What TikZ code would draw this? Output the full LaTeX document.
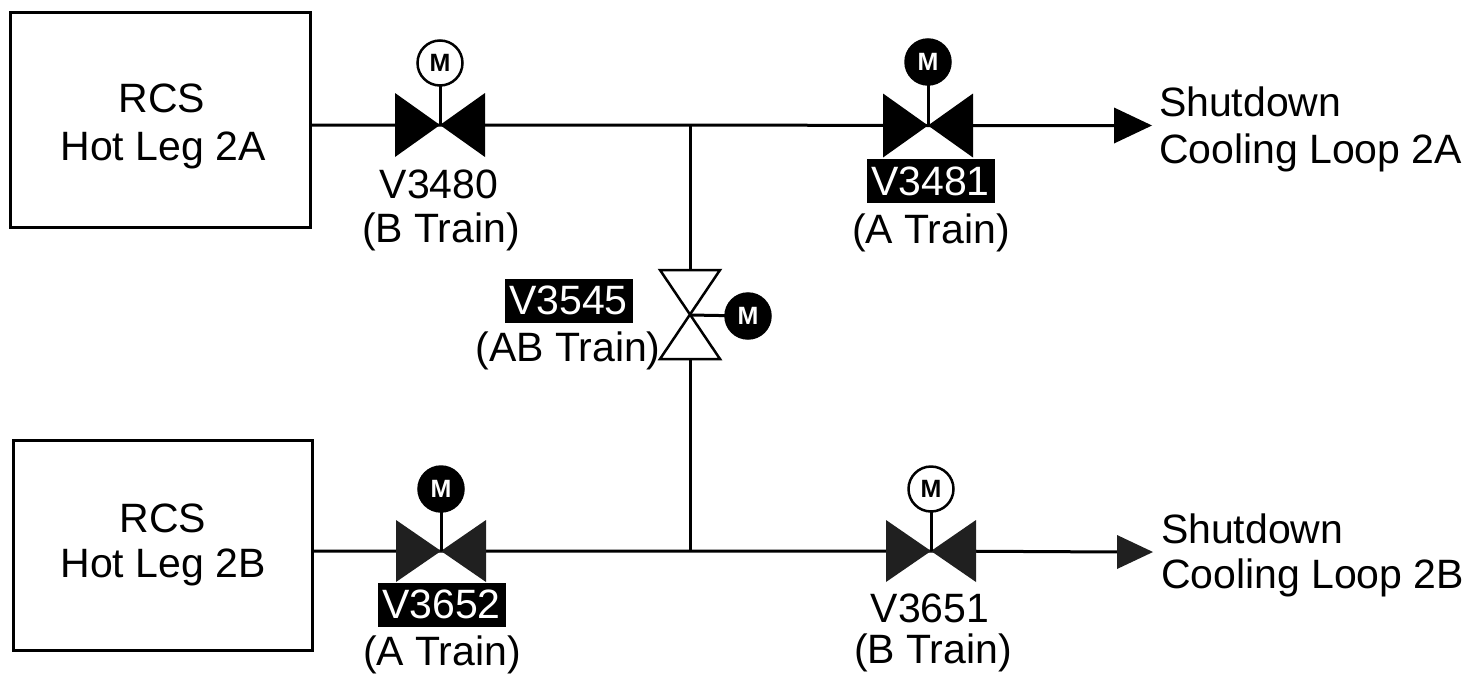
\documentclass[tikz,border=0pt]{standalone}
\usepackage{fontspec}
\setmainfont{Liberation Sans}
\definecolor{custcol_0_0_0}{RGB}{0, 0, 0}
\definecolor{custcol_20_20_20}{RGB}{32, 32, 32}
\tikzset{
  boxnode/.style={draw, line width=3pt, inner sep=0, outer sep=0},
  labelnode/.style={inner sep=0, outer sep=0, anchor=base, font=\fontsize{41pt}{41pt}\selectfont},
  loopnode/.style={labelnode, anchor=base west},
  tagnode/.style={labelnode, anchor=center, minimum width=128pt, minimum height=44pt, fill=custcol_0_0_0, text=white},
  motoropen/.style={circle, draw, line width=2.5pt, fill=white, minimum size=45pt, inner sep=0, outer sep=0, font=\bfseries\fontsize{25pt}{25pt}\selectfont},
  motorshut/.style={motoropen, fill=custcol_0_0_0, text=white},
  pipeline/.style={line width=3pt},
}
\begin{document}
\begin{tikzpicture}[x=1pt,y=-1pt]
\useasboundingbox (0,0) rectangle (1470,675);
% boxes
\node[boxnode, minimum width=300pt, minimum height=215pt] (hotlegA) at (160,119.5) {};
\node[boxnode, minimum width=299pt, minimum height=210pt] (hotlegB) at (162.5,545) {};
% valve centres
\coordinate (v3480) at (440,125);
\coordinate (v3481) at (928,125.5);
\coordinate (v3545) at (690,315);
\coordinate (v3652) at (441,551);
\coordinate (v3651) at (931,551);
\coordinate (teeA) at (690,125);
\coordinate (teeB) at (690,551);
\coordinate (endA) at (1116,125.5);
\coordinate (endB) at (1119,552);
% pipes
\draw[pipeline] (hotlegA.east |- v3480) -- (v3480) -- (teeA) -- (v3481) -- (endA);
\draw[pipeline] (hotlegB.east |- v3652) -- (v3652) -- (teeB) -- (v3651) -- (endB);
\draw[pipeline] (teeA) -- (v3545) -- (teeB);
% valves
\fill[custcol_0_0_0] ([shift={(-45,-32)}]v3480) -- ([shift={(45,32)}]v3480) -- ([shift={(45,-32)}]v3480) -- ([shift={(-45,32)}]v3480) -- cycle;
\fill[custcol_0_0_0] ([shift={(-45,-32)}]v3481) -- ([shift={(45,32)}]v3481) -- ([shift={(45,-32)}]v3481) -- ([shift={(-45,32)}]v3481) -- cycle;
\fill[custcol_20_20_20] ([shift={(-45,-31)}]v3652) -- ([shift={(45,31)}]v3652) -- ([shift={(45,-31)}]v3652) -- ([shift={(-45,31)}]v3652) -- cycle;
\fill[custcol_20_20_20] ([shift={(-45,-31)}]v3651) -- ([shift={(45,31)}]v3651) -- ([shift={(45,-31)}]v3651) -- ([shift={(-45,31)}]v3651) -- cycle;
\draw[line width=2.5pt, fill=white] ([shift={(-30,-45)}]v3545) -- ([shift={(30,-45)}]v3545) -- ([shift={(-30,44)}]v3545) -- ([shift={(30,44)}]v3545) -- cycle;
% motors
\node[motoropen] (m3480) at (440,63) {M};
\node[motorshut] (m3481) at (928,62) {M};
\node[motorshut] (m3545) at (748,316) {M};
\node[motorshut] (m3652) at (441,489) {M};
\node[motoropen] (m3651) at (931,489) {M};
\draw[pipeline] (m3480) -- (v3480);
\draw[pipeline] (m3481) -- (v3481);
\draw[pipeline] (m3545) -- (v3545);
\draw[pipeline] (m3652) -- (v3652);
\draw[pipeline] (m3651) -- (v3651);
% arrows
\fill[custcol_0_0_0] (endA) ++(-2,-18) -- ++(38,18) -- ++(-38,18) -- cycle;
\fill[custcol_20_20_20] (endB) ++(-2,-17) -- ++(36,17) -- ++(-36,17) -- cycle;
% labels
\node[labelnode] (rcsA) at (162,112) {RCS};
\node[labelnode] (legA) at (163,160) {Hot Leg 2A};
\node[labelnode] (rcsB) at (163,532) {RCS};
\node[labelnode] (legB) at (163,577) {Hot Leg 2B};
\node[labelnode] (l3480) at (439,198) {V3480};
\node[labelnode] (t3480) at (441,242) {(B Train)};
\node[tagnode] (l3481) at (930.5,181) {V3481};
\node[labelnode] (t3481) at (931,243) {(A Train)};
\node[tagnode] (l3545) at (568.5,300.5) {V3545};
\node[labelnode] (t3545) at (568,361) {(AB Train)};
\node[tagnode] (l3652) at (441.5,604.5) {V3652};
\node[labelnode] (t3652) at (442,665) {(A Train)};
\node[labelnode] (l3651) at (930,622) {V3651};
\node[labelnode] (t3651) at (933,663) {(B Train)};
\node[loopnode] (shutA) at (1159,116) {Shutdown};
\node[loopnode] (loopA) at (1159,163) {Cooling Loop 2A};
\node[loopnode] (shutB) at (1161,543) {Shutdown};
\node[loopnode] (loopB) at (1161,588) {Cooling Loop 2B};
\end{tikzpicture}
\end{document}
